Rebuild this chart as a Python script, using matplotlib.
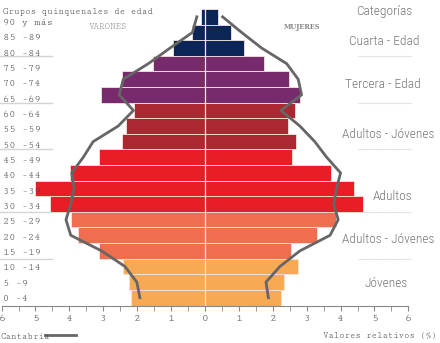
import matplotlib.pyplot as plt
from matplotlib.lines import Line2D

# age groups, bottom (0-4) to top (90 y mas)
grupos = ["0 -4", "5 -9", "10 -14", "15 -19", "20 -24", "25 -29", "30 -34",
          "35 -39", "40 -44", "45 -49", "50 -54", "55 -59", "60 -64",
          "65 -69", "70 -74", "75 -79", "80 -84", "85 -89", "90 y más"]

varones = [2.19, 2.25, 2.41, 3.14, 3.76, 3.94, 4.56, 5.00, 3.99, 3.14,
           2.46, 2.32, 2.09, 3.07, 2.45, 1.52, 0.93, 0.37, 0.13]
mujeres = [2.24, 2.33, 2.74, 2.55, 3.31, 3.88, 4.66, 4.40, 3.72, 2.58,
           2.69, 2.46, 2.65, 2.80, 2.48, 1.75, 1.15, 0.77, 0.37]

# comparison line (Cantabria)
cant_varones = [1.92, 2.01, 2.36, 3.05, 3.96, 4.10, 3.96, 3.86, 3.93, 3.59,
                3.30, 2.56, 2.11, 2.53, 2.41, 1.67, 1.03, 0.37, 0.24]
cant_mujeres = [1.87, 1.80, 2.21, 2.80, 3.69, 3.93, 3.80, 3.88, 4.00, 3.59,
                3.24, 2.80, 2.24, 2.85, 2.75, 2.41, 1.67, 1.08, 0.52]

# categories: (label, first group index, last group index, color)
categorias = [
    ("Jóvenes", 0, 2, "#f8a954"),
    ("Adultos - Jóvenes", 3, 5, "#f06e50"),
    ("Adultos", 6, 9, "#e91d25"),
    ("Adultos - Jóvenes", 10, 12, "#ab2830"),
    ("Tercera - Edad", 13, 15, "#772a6c"),
    ("Cuarta - Edad", 16, 18, "#0b2557"),
]

mono = ["Cutive Mono", "Courier Prime", "Liberation Mono", "DejaVu Sans Mono"]
narrow = ["Roboto Condensed", "Liberation Sans", "DejaVu Sans"]
gris = "#666666"

colores = []
for _, a, b, c in categorias:
    colores += [c] * (b - a + 1)

fig = plt.figure(figsize=(4.4, 3.43), dpi=100)
ax = fig.add_axes([0.0036, 0.1093, 0.9245, 0.8644])

y = range(len(grupos))
ax.barh(y, [-v for v in varones], height=1.0, color=colores,
        edgecolor="#f6e4dc", linewidth=0.6)
ax.barh(y, mujeres, height=1.0, color=colores,
        edgecolor="#f6e4dc", linewidth=0.6)
ax.axvline(0, color="#f7ead8", linewidth=0.9)

ax.plot([-v for v in cant_varones], y, color=gris, linewidth=2)
ax.plot(cant_mujeres, y, color=gris, linewidth=2)

ax.set_xlim(-6, 6)
ax.set_ylim(-0.5, 18.5)
for s in ["left", "right", "top"]:
    ax.spines[s].set_visible(False)
ax.spines["bottom"].set_color("#888888")
ax.set_yticks([])
ax.set_xticks(range(-6, 7))
ax.set_xticks([i + 0.5 for i in range(-6, 6)], minor=True)
ax.set_xticklabels([str(abs(i)) for i in range(-6, 7)],
                   fontfamily=mono, fontsize=8, color="#444444")
ax.tick_params(axis="x", which="both", length=3.5, color="#888888", pad=3)

# age labels on the left
for i, g in enumerate(grupos):
    ax.text(-5.96, i - 0.08 - 0.31 * i / 18, g, fontfamily=mono,
            fontsize=7.5, color="#444444", ha="left", va="center")

# separators on both sides
for nombre, a, b, c in categorias:
    if b < 18:
        ax.plot([-6.05, -4.5], [b + 0.5, b + 0.5], color="#d4d4d4",
                linewidth=1, clip_on=False)
        ax.plot([4.51, 6.07], [b + 0.5, b + 0.5], color="#d4d4d4",
                linewidth=0.8, linestyle=(0, (1, 0.6)), clip_on=False)

cat_pos = [("Cuarta - Edad", 16.45, 5.3), ("Tercera - Edad", 13.68, 5.25),
           ("Adultos - Jóvenes", 10.49, 5.4), ("Adultos", 6.46, 5.52),
           ("Adultos - Jóvenes", 3.76, 5.4), ("Jóvenes", 0.94, 5.33)]
for nombre, yy, xx in cat_pos:
    ax.text(xx, yy, nombre, fontfamily=narrow, fontsize=9.6, color="#777777",
            fontweight="light", ha="center", va="center", clip_on=False)
ax.text(5.3, 18.31, "Categorías", fontfamily=narrow, fontsize=9.6,
        fontweight="light", color="#777777", ha="center", va="center",
        clip_on=False)

ax.text(-5.96, 18.31, "Grupos quinquenales de edad", fontfamily=mono,
        fontsize=6.6, color="#444444", ha="left", va="center", clip_on=False)
ax.text(-2.86, 17.35, "VARONES", fontfamily=mono, fontsize=6.5,
        color="#888888", ha="center", va="center")
ax.text(2.86, 17.35, "MUJERES", fontfamily="DejaVu Serif", fontsize=4.8,
        color="#888888", ha="center", va="center", fontweight="bold")

fig.text(437 / 440, 1 - 336 / 343, "Valores relativos (%)", fontfamily=mono,
         fontsize=6.4, color="#444444", ha="right", va="center")
fig.text(0.0, 1 - 337 / 343, "Cantabria", fontfamily=mono, fontsize=6.5,
         color="#444444", ha="left", va="center")
fig.add_artist(Line2D([45 / 440, 76 / 440], [1 - 335 / 343, 1 - 335 / 343],
                      color=gris, linewidth=2))

fig.savefig("out.png", dpi=100)
